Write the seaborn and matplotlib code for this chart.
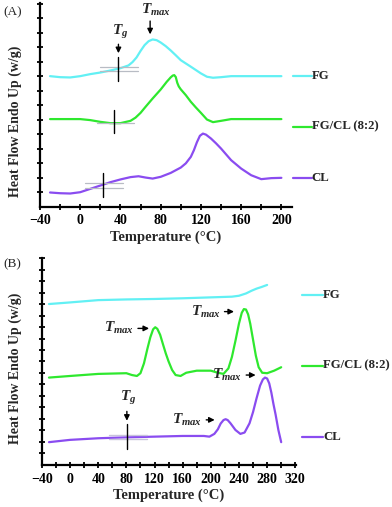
import numpy as np
import pandas as pd
import matplotlib
matplotlib.use("Agg")
import matplotlib.pyplot as plt
import seaborn as sns

sns.set_style("ticks")
plt.rcParams["font.family"] = ["Liberation Serif", "DejaVu Serif"]
plt.rcParams["font.weight"] = "bold"
plt.rcParams["mathtext.fontset"] = "custom"
plt.rcParams["mathtext.it"] = "Liberation Serif:italic:bold"
plt.rcParams["mathtext.rm"] = "Liberation Serif:bold"

C_FG = "#62f0f4"
C_MIX = "#2ee82e"
C_CL = "#8a4cf0"
LABELS = ["FG", "FG/CL (8:2)", "CL"]

# ---- panel A (first heating), arbitrary heat-flow units ----
a_fg_t = [-30, -20, -10, 0, 10, 20, 30, 40, 48, 52, 56, 60, 64, 68, 72, 76, 80, 85, 90, 95, 100, 110, 120, 126,
          132, 140, 150, 175, 200]
a_fg_q = [9.01, 8.94, 8.92, 9.01, 9.15, 9.26, 9.40, 9.56, 9.75, 9.98, 10.30, 10.75, 11.15, 11.42, 11.54, 11.49,
          11.33, 11.08, 10.78, 10.45, 10.11, 9.66, 9.20, 8.97, 8.90, 8.94, 9.01, 9.01, 9.01]
a_mix_t = [-30, -10, 0, 10, 20, 30, 40, 50, 55, 60, 65, 72, 80, 86, 90, 92, 93.5, 95, 96.5, 98, 100, 105, 110,
           115, 120, 126, 132, 140, 150, 175, 200]
a_mix_q = [6.05, 6.05, 6.05, 5.98, 5.86, 5.77, 5.77, 5.93, 6.15, 6.48, 6.90, 7.47, 8.09, 8.62, 8.93, 9.05, 9.08,
           8.95, 8.55, 8.30, 8.10, 7.70, 7.24, 6.85, 6.48, 6.02, 5.84, 5.93, 6.05, 6.05, 6.05]
a_cl_t = [-30, -20, -10, 0, 10, 20, 30, 40, 50, 58, 65, 72, 80, 90, 100, 105, 110, 113, 116, 119, 122, 125, 130,
          135, 140, 150, 160, 170, 180, 190, 200]
a_cl_q = [0.99, 0.94, 0.92, 1.01, 1.24, 1.47, 1.70, 1.89, 2.05, 2.11, 2.02, 1.95, 2.07, 2.34, 2.71, 3.00, 3.45,
          3.90, 4.45, 4.90, 5.05, 4.98, 4.71, 4.38, 4.02, 3.22, 2.64, 2.18, 1.91, 1.98, 2.00]
a_tg = [38, 33.7, 22.4]
a_tmax = 69.5
a_legend_y = [9.01, 5.52, 2.00]

# ---- panel B (second heating) ----
b_fg_t = [-30, 0, 40, 80, 120, 160, 200, 230, 240, 250, 258, 265, 272, 280]
b_fg_q = [7.00, 7.07, 7.17, 7.20, 7.22, 7.25, 7.29, 7.32, 7.36, 7.46, 7.58, 7.67, 7.74, 7.83]
b_mix_t = [-30, 0, 40, 80, 88, 95, 100, 105, 110, 114, 118, 121, 124, 128, 132, 136, 140, 145, 150, 157, 165, 180,
           200, 210, 218, 225, 230, 235, 240, 244, 247, 250, 253, 256, 260, 264, 268, 273, 280, 290, 300]
b_mix_q = [3.80, 3.87, 3.96, 3.99, 3.91, 3.87, 3.99, 4.42, 5.07, 5.55, 5.90, 5.99, 5.92, 5.66, 5.25, 4.85, 4.50,
           4.13, 3.91, 3.87, 4.01, 4.10, 4.10, 4.01, 3.96, 4.20, 4.70, 5.40, 6.15, 6.62, 6.78, 6.76, 6.55, 6.15,
           5.45, 4.75, 4.25, 4.01, 3.99, 4.10, 4.25]
b_cl_t = [-30, 0, 40, 80, 120, 160, 190, 198, 205, 210, 214, 218, 221, 224, 228, 235, 242, 248, 255, 260, 265,
          270, 274, 277, 280, 283, 286, 289, 292, 296, 300]
b_cl_q = [0.99, 1.09, 1.16, 1.20, 1.23, 1.26, 1.26, 1.23, 1.35, 1.55, 1.80, 1.95, 1.99, 1.95, 1.81, 1.52, 1.35,
          1.41, 1.81, 2.30, 2.90, 3.45, 3.72, 3.80, 3.76, 3.55, 3.15, 2.65, 2.20, 1.52, 0.99]
b_tg = 80.7
b_legend_y = [7.39, 4.32, 1.23]
# (arrow start, arrow end, y) for each T_max arrow in panel B
b_tmax = [(92.5, 116.2, 5.94), (215.5, 236.9, 6.67), (246.3, 267.6, 3.91), (189.5, 209.4, 1.96)]


def frame(t, q, name):
    return pd.DataFrame({"Temperature": t, "Heat": q, "sample": name})


def style_axes(ax, xlim, ylim, xmaj, ymaj, ylab_pos):
    ax.set_xlim(*xlim)
    ax.set_ylim(*ylim)
    ax.set_xticks(xmaj)
    ax.set_xticks(np.arange(xmaj[0], xmaj[-1] + 1, 20), minor=True)
    ax.set_yticks(ymaj)
    ax.set_yticklabels([])
    ax.tick_params(axis="both", which="both", direction="inout", length=5, width=1.3, colors="black")
    ax.tick_params(axis="x", labelsize=10, pad=3)
    for lab in ax.get_xticklabels():
        lab.set_fontweight("bold")
    sns.despine(ax=ax)
    for s in ["left", "bottom"]:
        ax.spines[s].set_linewidth(1.6)
        ax.spines[s].set_color("black")
    ax.set_xlabel("Temperature (°C)", fontsize=10.5, fontweight="bold", labelpad=2)
    ax.set_ylabel("Heat Flow Endo Up (w/g)", fontsize=10, fontweight="bold")
    ax.yaxis.set_label_coords(*ylab_pos)


def side_legend(ax, x0, x1, ys):
    for y, lab, c in zip(ys, LABELS, [C_FG, C_MIX, C_CL]):
        ax.plot([x0, x1], [y, y], color=c, lw=1.6, clip_on=False)
        ax.text(x1 + 0.3, y, lab, fontsize=9.2, fontweight="bold", va="center", ha="left", clip_on=False)


def down_arrow(ax, x, ytop, ybot, label, xtext, ytext):
    ax.annotate("", xy=(x, ybot), xytext=(x, ytop),
                arrowprops=dict(arrowstyle="-|>", color="black", lw=1.0, mutation_scale=8))
    ax.text(xtext, ytext, label, fontsize=11, ha="center", va="bottom")


pal = {LABELS[0]: C_FG, LABELS[1]: C_MIX, LABELS[2]: C_CL}

fig = plt.figure(figsize=(3.92, 5.07), dpi=100)
axA = fig.add_axes([0.102, 0.592, 0.643, 0.402])
axB = fig.add_axes([0.107, 0.083, 0.648, 0.408])

dfA = pd.concat([frame(a_fg_t, a_fg_q, LABELS[0]), frame(a_mix_t, a_mix_q, LABELS[1]),
                 frame(a_cl_t, a_cl_q, LABELS[2])])
sns.lineplot(data=dfA, x="Temperature", y="Heat", hue="sample", palette=pal, lw=1.6,
             legend=False, ax=axA, sort=False)
style_axes(axA, (-40, 210.6), (0, 14.05), np.arange(-40, 201, 40), np.arange(1, 15), (-0.071, 0.42))

# Tg construction lines, panel A
axA.plot([19.8, 57.6], [9.66, 9.66], color="#b8bcc4", lw=0.9)
axA.plot([19.8, 57.6], [9.36, 9.36], color="#b8bcc4", lw=0.9)
axA.plot([a_tg[0], a_tg[0]], [8.67, 10.34], color="black", lw=1.0)
axA.plot([16.4, 53.0], [5.75, 5.75], color="#b8bcc4", lw=0.9)
axA.plot([a_tg[1], a_tg[1]], [5.06, 6.67], color="black", lw=1.0)
axA.plot([4.8, 43.0], [1.66, 1.66], color="#b8bcc4", lw=0.9)
axA.plot([4.8, 43.0], [1.33, 1.33], color="#b8bcc4", lw=0.9)
axA.plot([a_tg[2], a_tg[2]], [0.69, 2.34], color="black", lw=1.0)
down_arrow(axA, a_tg[0], 11.40, 10.40, r"$T_g$", a_tg[0] + 2, 11.45)
down_arrow(axA, a_tmax, 13.0, 11.7, r"$T_{max}$", a_tmax + 6, 13.05)
side_legend(axA, 211.5, 230.0, a_legend_y)
fig.text(0.008, 0.975, "(A)", fontsize=9.5, fontweight="normal", ha="left", va="center")

dfB = pd.concat([frame(b_fg_t, b_fg_q, LABELS[0]), frame(b_mix_t, b_mix_q, LABELS[1]),
                 frame(b_cl_t, b_cl_q, LABELS[2])])
sns.lineplot(data=dfB, x="Temperature", y="Heat", hue="sample", palette=pal, lw=1.6,
             legend=False, ax=axB, sort=False)
style_axes(axB, (-40, 321), (0, 9.0), np.arange(-40, 321, 40), np.arange(0.5, 9.01, 0.5), (-0.079, 0.466))

axB.plot([54.6, 109.0], [1.28, 1.28], color="#c8c4dc", lw=1.0)
axB.plot([54.6, 109.0], [1.13, 1.13], color="#c8c4dc", lw=1.0)
axB.plot([b_tg, b_tg], [0.70, 1.78], color="black", lw=1.0)
down_arrow(axB, b_tg, 2.45, 1.80, r"$T_g$", b_tg + 2, 2.5)
for x0, x1, y in b_tmax:
    axB.annotate("", xy=(x1, y), xytext=(x0, y),
                 arrowprops=dict(arrowstyle="-|>", color="black", lw=1.0, mutation_scale=8))
    axB.text(x0 - 1.5, y, r"$T_{max}$", fontsize=11, ha="right", va="center")
side_legend(axB, 329.0, 359.4, b_legend_y)
fig.text(0.008, 0.478, "(B)", fontsize=9.5, fontweight="normal", ha="left", va="center")

fig.savefig("out.png", dpi=100)
